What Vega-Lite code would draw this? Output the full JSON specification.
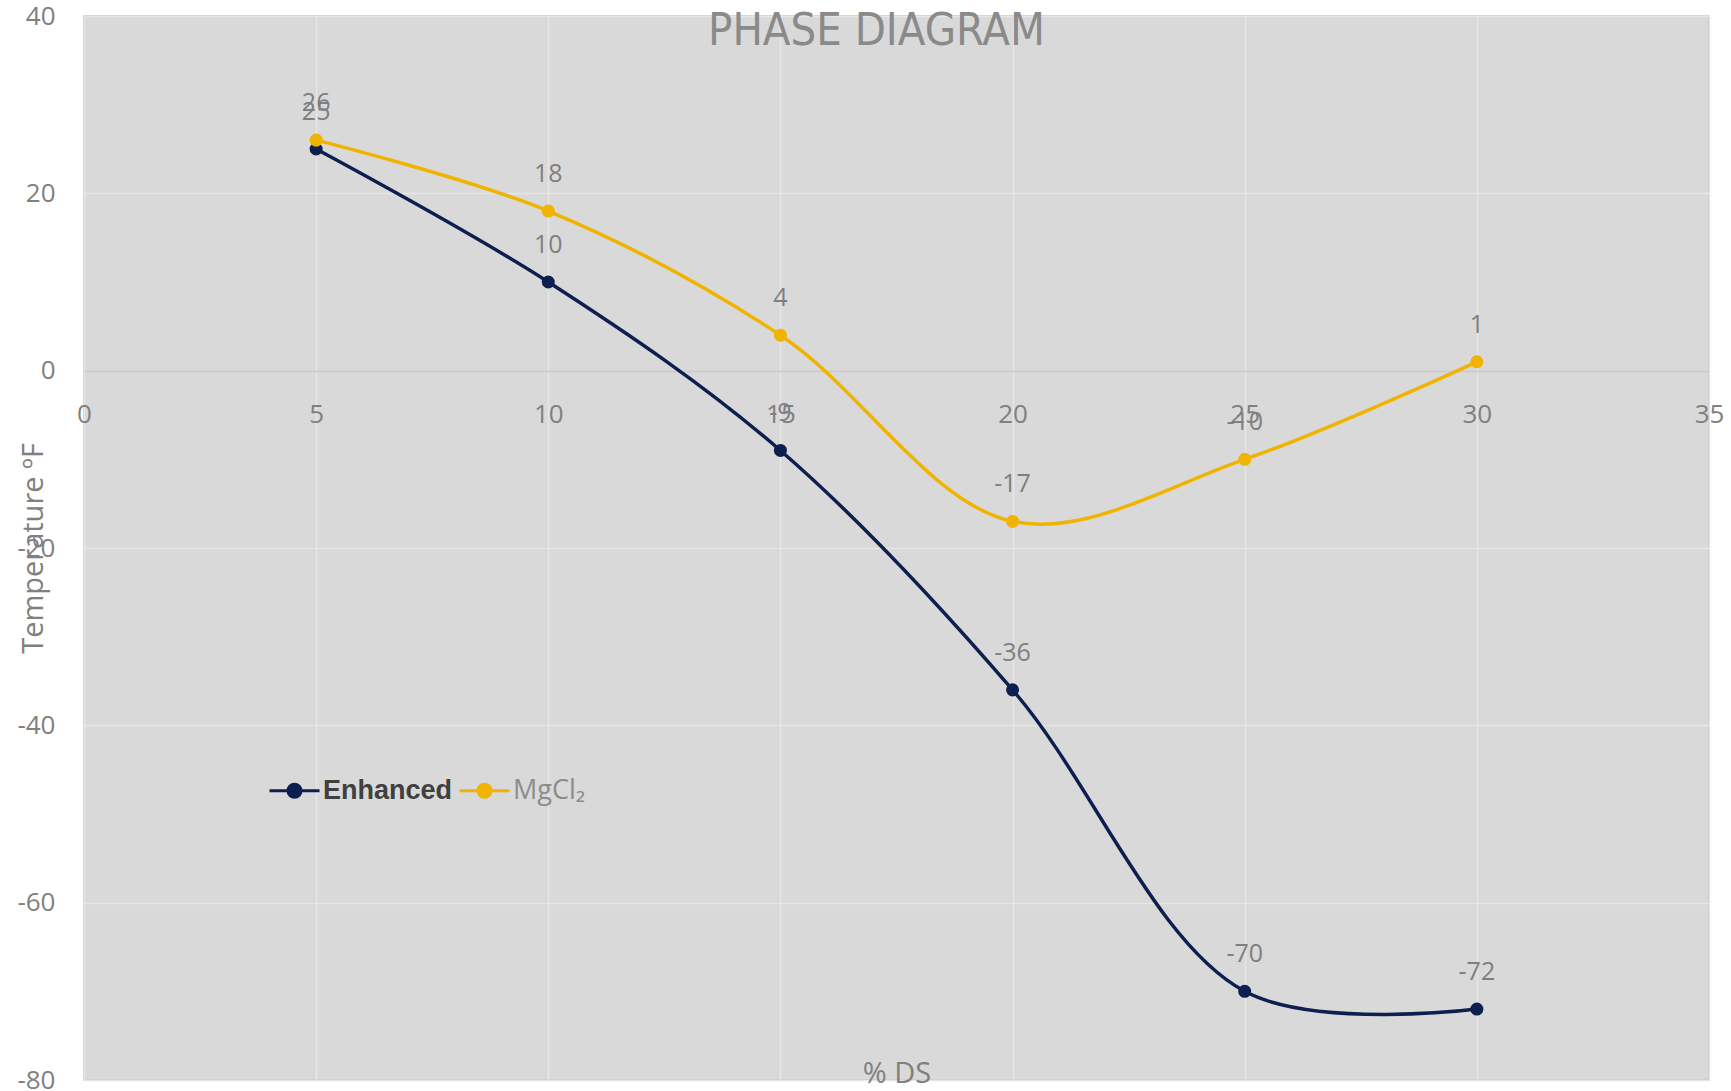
{
  "$schema": "https://vega.github.io/schema/vega-lite/v6.json",
  "width": 1625,
  "height": 1064,
  "autosize": {"type": "none"},
  "padding": {"left": 84, "top": 16, "right": 22, "bottom": 11},
  "background": "#ffffff",
  "title": {
    "text": "PHASE DIAGRAM",
    "anchor": "middle",
    "frame": "group",
    "offset": -27,
    "dy": 60,
    "dx": -20,
    "baseline": "alphabetic",
    "font": "Liberation Sans Narrow, DejaVu Sans Condensed, sans-serif",
    "fontSize": 45,
    "fontWeight": "normal",
    "color": "#8a8a8a"
  },
  "config": {
    "locale": {"number": {"decimal": ".", "thousands": ",", "grouping": [3], "currency": ["$", ""], "minus": "-"}},
    "view": {"fill": "#d9d9d9", "stroke": "#c4c4c4", "strokeWidth": 1.5},
    "font": "Open Sans",
    "axis": {
      "labelFont": "Open Sans",
      "titleFont": "Open Sans",
      "labelColor": "#808080",
      "titleColor": "#808080",
      "labelFontSize": 26,
      "titleFontSize": 29,
      "titleFontWeight": "normal",
      "gridColor": "#e6e6e6",
      "gridWidth": 1.5,
      "ticks": false
    }
  },
  "data": {
    "values": [
      {"ds": 5, "temp": 25, "series": "Enhanced"},
      {"ds": 10, "temp": 10, "series": "Enhanced"},
      {"ds": 15, "temp": -9, "series": "Enhanced"},
      {"ds": 20, "temp": -36, "series": "Enhanced"},
      {"ds": 25, "temp": -70, "series": "Enhanced"},
      {"ds": 30, "temp": -72, "series": "Enhanced"},
      {"ds": 5, "temp": 26, "series": "MgCl₂"},
      {"ds": 10, "temp": 18, "series": "MgCl₂"},
      {"ds": 15, "temp": 4, "series": "MgCl₂"},
      {"ds": 20, "temp": -17, "series": "MgCl₂"},
      {"ds": 25, "temp": -10, "series": "MgCl₂"},
      {"ds": 30, "temp": 1, "series": "MgCl₂"}
    ]
  },
  "encoding": {
    "x": {
      "field": "ds",
      "type": "quantitative",
      "scale": {"domain": [0, 35], "nice": false, "zero": false},
      "axis": {
        "title": "% DS",
        "values": [0, 5, 10, 15, 20, 25, 30, 35],
        "offset": -709,
        "domainColor": "#cccccc",
        "domainWidth": 2,
        "labelPadding": 30,
        "labelFlush": false,
        "titleY": 702,
        "titleBaseline": "middle"
      }
    },
    "y": {
      "field": "temp",
      "type": "quantitative",
      "scale": {"domain": [-80, 40], "nice": false, "zero": false},
      "axis": {
        "title": "Temperature ºF",
        "values": [-80, -60, -40, -20, 0, 20, 40],
        "domain": false,
        "labelPadding": 29,
        "titleX": -51,
        "titleY": 532,
        "titleAngle": -90,
        "titleAlign": "center",
        "titleBaseline": "middle"
      }
    }
  },
  "layer": [
    {
      "mark": {"type": "line", "interpolate": "catmull-rom", "strokeWidth": 3.5},
      "encoding": {
        "color": {
          "field": "series",
          "type": "nominal",
          "scale": {"domain": ["Enhanced", "MgCl₂"], "range": ["#0c1f4e", "#f0b400"]},
          "legend": {
            "title": null,
            "orient": "none",
            "legendX": 184,
            "legendY": 748,
            "direction": "horizontal",
            "symbolType": "M-1,0L1,0M-0.26,0A0.26,0.26,0,1,1,0.26,0A0.26,0.26,0,1,1,-0.26,0Z",
            "symbolSize": 2500,
            "symbolStrokeWidth": 3,
            "labelFontSize": 27,
            "labelFont": "Open Sans",
            "labelOffset": 2,
            "columnPadding": 0,
            "encode": {
              "symbols": {
                "update": {
                  "fill": {"signal": "scale('color', datum.value)"},
                  "stroke": {"signal": "scale('color', datum.value)"},
                  "opacity": {"value": 1}
                }
              },
              "labels": {
                "update": {
                  "font": {"signal": "datum.value === 'Enhanced' ? 'Liberation Sans' : 'Open Sans'"},
                  "fontWeight": {"signal": "datum.value === 'Enhanced' ? 'bold' : 'normal'"},
                  "fill": {"signal": "datum.value === 'Enhanced' ? '#404040' : '#8c8c8c'"}
                }
              }
            }
          }
        }
      }
    },
    {
      "mark": {"type": "point", "filled": true, "size": 170, "opacity": 1},
      "encoding": {
        "color": {"field": "series", "type": "nominal"}
      }
    },
    {
      "mark": {"type": "text", "dy": -37, "fontSize": 25, "color": "#7f7f7f", "font": "Open Sans"},
      "encoding": {
        "text": {"field": "temp", "type": "quantitative"}
      }
    }
  ]
}
